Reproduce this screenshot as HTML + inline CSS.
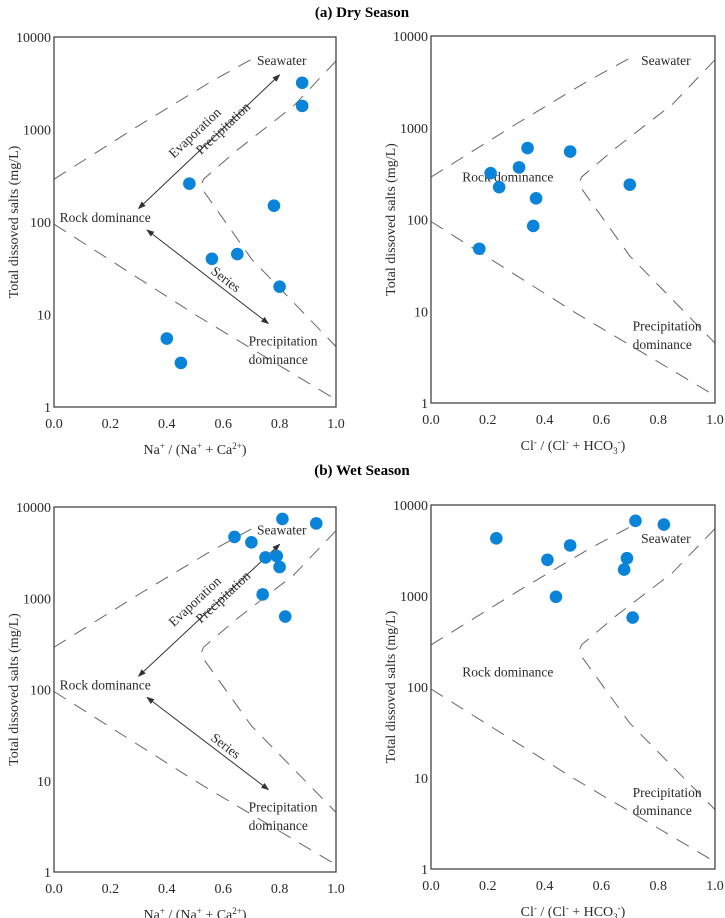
<!DOCTYPE html>
<html><head><meta charset="utf-8"><style>
body{margin:0;background:#fff;}
svg{display:block;font-family:"Liberation Serif",serif;}
</style></head><body>
<svg id="chart" width="725" height="918" viewBox="0 0 725 918">
<text x="362" y="17" text-anchor="middle" font-size="15" font-weight="bold">(a) Dry Season</text>
<text x="362" y="475" text-anchor="middle" font-size="15" font-weight="bold">(b) Wet Season</text>
</svg>
<script>
const dryNaX=[0.88,0.88,0.48,0.78,0.56,0.65,0.80,0.40,0.45];
const dryNaTDS=[3200,1800,260,150,40,45,20,5.5,3];
const dryClX=[0.21,0.24,0.31,0.34,0.49,0.37,0.36,0.17,0.70];
const dryClTDS=[320,225,370,600,550,170,85,48,240];
const wetNaX=[0.64,0.70,0.81,0.93,0.75,0.79,0.80,0.74,0.82];
const wetNaTDS=[4700,4100,7400,6600,2800,2900,2200,1100,630];
const wetClX=[0.23,0.41,0.49,0.44,0.72,0.82,0.69,0.68,0.71];
const wetClTDS=[4300,2500,3600,980,6700,6100,2600,1950,580];
const xTicks=[0,0.2,0.4,0.6,0.8,1.0];
const xTickLabels=["0.0","0.2","0.4","0.6","0.8","1.0"];
const yTicks=[1,10,100,1000,10000];
const yTickLabels=["1","10","100","1000","10000"];

const svg=document.getElementById('chart');
const NS='http://www.w3.org/2000/svg';
function mk(tag,attrs,parent){const e=document.createElementNS(NS,tag);for(const k in attrs)e.setAttribute(k,attrs[k]);(parent||svg).appendChild(e);return e;}
function txt(x,y,s,size,parent,anchor,rot){const t=mk('text',{x:x,y:y,'font-size':size,'text-anchor':anchor||'start',fill:'#2a2a2a'},parent);if(rot!==undefined)t.setAttribute('transform','rotate('+rot+' '+x+' '+y+')');t.textContent=s;return t;}

function panel(cfg){
  const g=mk('g',{});
  
  
  const L=cfg.L,R=cfg.R,T=cfg.T,B=cfg.B;
  const sx=v=>L+(R-L)*v;
  const sy=v=>B-(B-T)*(Math.log10(v)/4);
  const dash={fill:'none',stroke:'#666','stroke-width':1,'stroke-dasharray':'14,10'};
  const p=(pts)=>pts.map((q,i)=>(i?'L':'M')+sx(q[0]).toFixed(1)+' '+sy(q[1]).toFixed(1)).join(' ');
  const b1=mk('path',Object.assign({d:p([[0,290],[0.3,1100],[0.55,3200],[0.72,6200]])},dash),g);
  
  const b2=mk('path',Object.assign({d:p([[1.0,5500],[0.85,1800],[0.65,600],[0.53,290],[0.52,240],[0.7,40],[1.0,4.5]])},dash),g);
  
  const b3=mk('path',Object.assign({d:p([[0,95],[0.5,10],[1.0,1.2]])},dash),g);
  
  const fr=mk('rect',{x:L,y:T,width:R-L,height:B-T,fill:'none',stroke:'#444','stroke-width':1.3},g);
  
  xTicks.forEach((v,i)=>{const t=txt(sx(v),B+21,xTickLabels[i],14,g,'middle');});
  yTicks.forEach((v,i)=>{const t=txt(L-3,sy(v)+5,yTickLabels[i],14,g,'end');});
  const yt=txt(L-36,(T+B)/2,'Total dissoved salts (mg/L)',14,g,'middle',-90);
  
  const xt=mk('text',{x:(L+R)/2,y:B+47,'font-size':14,'text-anchor':'middle',fill:'#2a2a2a'},g);
  
  xt.innerHTML=cfg.xtitle;
  const sw=txt(sx(cfg.na?0.72:0.74),sy(cfg.na?5000:(cfg.wet?3800:4800)),'Seawater',13.5,g);
  
  const rd=txt(sx(cfg.na?0.02:0.11),sy(cfg.na?100:(cfg.wet?130:260)),'Rock dominance',13.5,g);
  
  const pd1=txt(sx(cfg.na?0.69:0.71),sy(cfg.na?4.6:6.2),'Precipitation',13.5,g);
  
  const pd2=txt(sx(cfg.na?0.69:0.71),sy(cfg.na?2.9:3.9),'dominance',13.5,g);
  
  if(cfg.na){
    const defs=mk('defs',{},g);
    const m=mk('marker',{id:'ah'+cfg.id,markerWidth:8,markerHeight:6,refX:7,refY:3,orient:'auto-start-reverse'},defs);
    mk('path',{d:'M0 0 L8 3 L0 6 z',fill:'#333'},m);
    const a1=mk('line',{x1:sx(0.3),y1:sy(140),x2:sx(0.8),y2:sy(3900),stroke:'#333','stroke-width':1,'marker-start':'url(#ah'+cfg.id+')','marker-end':'url(#ah'+cfg.id+')'},g);
    
    const a2=mk('line',{x1:sx(0.33),y1:sy(82),x2:sx(0.76),y2:sy(8),stroke:'#333','stroke-width':1,'marker-start':'url(#ah'+cfg.id+')','marker-end':'url(#ah'+cfg.id+')'},g);
    
    const ang=Math.atan2(sy(3900)-sy(140),sx(0.8)-sx(0.3))*180/Math.PI;
    const e=txt(sx(0.51),sy(850),'Evaporation',13.5,g,'middle',ang);
    
    const pr=txt(sx(0.61),sy(950),'Precipitation',13.5,g,'middle',ang);
    
    const ang2=Math.atan2(sy(8)-sy(82),sx(0.76)-sx(0.33))*180/Math.PI;
    const s=txt(sx(0.6),sy(22),'Series',13.5,g,'middle',ang2);
    
  }
  cfg.xs.forEach((v,i)=>{
    const c=mk('circle',{cx:sx(v),cy:sy(cfg.ys[i]),r:6.3,fill:'#0a84d8'},g);
    
    
  });
}
const naT='Na<tspan font-size="9" dy="-5">+</tspan><tspan dy="5"> / (Na</tspan><tspan font-size="9" dy="-5">+</tspan><tspan dy="5"> + Ca</tspan><tspan font-size="9" dy="-5">2+</tspan><tspan dy="5">)</tspan>';
const clT='Cl<tspan font-size="9" dy="-5">-</tspan><tspan dy="5"> / (Cl</tspan><tspan font-size="9" dy="-5">-</tspan><tspan dy="5"> + HCO</tspan><tspan font-size="9" dy="4">3</tspan><tspan font-size="9" dy="-9">-</tspan><tspan dy="5">)</tspan>';
panel({id:1,name:'dry-na-panel',L:54,R:336,T:37,B:407,na:true,xs:dryNaX,ys:dryNaTDS,xtitle:naT});
panel({id:2,name:'dry-cl-panel',L:431,R:715,T:36,B:403,na:false,xs:dryClX,ys:dryClTDS,xtitle:clT});
panel({id:3,name:'wet-na-panel',L:54,R:336,T:507,B:872,na:true,wet:true,xs:wetNaX,ys:wetNaTDS,xtitle:naT});
panel({id:4,name:'wet-cl-panel',L:431,R:715,T:505,B:869,na:false,wet:true,xs:wetClX,ys:wetClTDS,xtitle:clT});
</script>
</body></html>
